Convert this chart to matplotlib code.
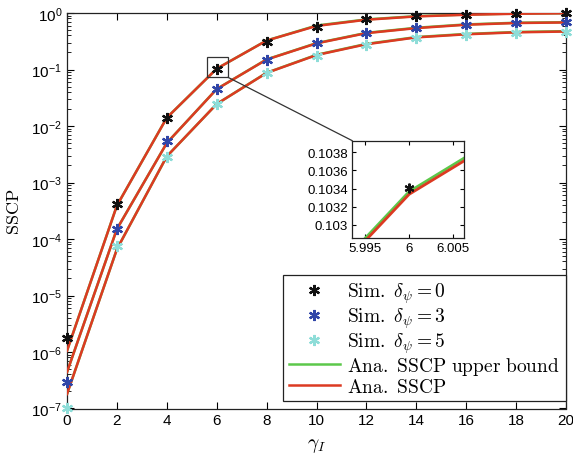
import matplotlib
matplotlib.use("Agg")
import matplotlib.pyplot as plt
from matplotlib.ticker import NullLocator, FixedLocator, LogLocator
from matplotlib.patches import Rectangle, ConnectionPatch

plt.rcParams['font.family'] = ['Liberation Sans', 'DejaVu Sans']
plt.rcParams['mathtext.fontset'] = 'cm'

gamma = [0, 2, 4, 6, 8, 10, 12, 14, 16, 18, 20]

sim0 = [1.8e-6, 4.2e-4, 1.38e-2, 0.10341, 0.31, 0.56, 0.78, 0.87, 0.93, 0.97, 0.99]
sim3 = [3.0e-7, 1.5e-4, 5.4e-3, 0.045, 0.149, 0.294, 0.44, 0.535, 0.605, 0.66, 0.68]
sim5 = [1.0e-7, 7.6e-5, 2.8e-3, 0.0245, 0.087, 0.176, 0.27, 0.355, 0.40, 0.44, 0.47]

red0 = [1.05e-6, 3.9e-4, 1.40e-2, 0.103337, 0.325, 0.59, 0.76, 0.87, 0.93, 0.97, 0.99]
red3 = [4.4e-7, 1.5e-4, 5.0e-3, 0.045, 0.15, 0.29, 0.44, 0.54, 0.62, 0.665, 0.68]
red5 = [1.8e-7, 6.6e-5, 2.9e-3, 0.0245, 0.087, 0.18, 0.28, 0.37, 0.42, 0.455, 0.47]

green0 = [1.05e-6, 3.9e-4, 1.40e-2, 0.103367, 0.326, 0.60, 0.77, 0.88, 0.94, 0.98, 0.995]
green3 = [4.4e-7, 1.5e-4, 5.0e-3, 0.0451, 0.151, 0.293, 0.445, 0.548, 0.628, 0.672, 0.688]
green5 = [1.8e-7, 6.6e-5, 2.9e-3, 0.02455, 0.0875, 0.182, 0.284, 0.375, 0.426, 0.461, 0.477]

xticks = [0, 2, 4, 6, 8, 10, 12, 14, 16, 18, 20]
inset_xticks = [5.995, 6.0, 6.005]
inset_xticklabels = ['5.995', '6', '6.005']
inset_yticks = [0.103, 0.1032, 0.1034, 0.1036, 0.1038]
inset_yticklabels = ['0.103', '0.1032', '0.1034', '0.1036', '0.1038']

c_black = '#111111'
c_blue = '#3046A8'
c_cyan = '#8EDDD8'
c_red = '#DC3A22'
c_green = '#5CC84A'

W, H = 573, 456
fig = plt.figure(figsize=(W / 100, H / 100), dpi=100)
ax = fig.add_axes([67 / W, 1 - 409.5 / H, (566 - 67) / W, (409.5 - 14) / H])

mk = dict(marker=(6, 2, 0), linestyle='none', markersize=8, markeredgewidth=1.6, clip_on=False, zorder=4)
h0, = ax.plot(gamma, sim0, color=c_black, markeredgecolor=c_black, label=r'$\mathrm{Sim.}\ \delta_{\psi}=0$', **mk)
h3, = ax.plot(gamma, sim3, color=c_blue, markeredgecolor=c_blue, label=r'$\mathrm{Sim.}\ \delta_{\psi}=3$', **mk)
h5, = ax.plot(gamma, sim5, color=c_cyan, markeredgecolor=c_cyan, label=r'$\mathrm{Sim.}\ \delta_{\psi}=5$', **mk)

lw = 1.8
for g in (green0, green3, green5):
    hg, = ax.plot(gamma, g, color=c_green, lw=lw, zorder=2)
for r in (red0, red3, red5):
    hr, = ax.plot(gamma, r, color=c_red, lw=lw, zorder=3)
hg.set_label(r'$\mathrm{Ana.\ SSCP\ upper\ bound}$')
hr.set_label(r'$\mathrm{Ana.\ SSCP}$')

ax.set_yscale('log')
ax.set_xlim(0, 20)
ax.set_ylim(1e-7, 1)
ax.set_xticks(xticks)
ax.set_xticklabels([str(t) for t in xticks])
ax.yaxis.set_major_locator(LogLocator(base=10, numticks=10))
ax.yaxis.set_minor_locator(LogLocator(base=10, subs=range(2, 10), numticks=100))
ax.tick_params(which='both', direction='in', top=True, right=True, labelsize=11)
ax.tick_params(which='major', length=5, width=0.8)
ax.tick_params(which='minor', length=3, width=0.6)
for s in ax.spines.values():
    s.set_linewidth(0.9)
    s.set_color('#222222')

ax.set_xlabel(r'$\gamma_I$', fontsize=14, labelpad=6)
ax.set_ylabel(r'$\mathrm{SSCP}$', fontsize=13, labelpad=6)

leg = ax.legend(handles=[h0, h3, h5, hg, hr], loc='lower right', bbox_to_anchor=(1.0, 0.018),
                fontsize=14, frameon=True, fancybox=False, edgecolor='#222222', framealpha=1,
                borderaxespad=0.0, handlelength=2.6, handletextpad=0.4,
                labelspacing=0.02, borderpad=0.3)
leg.get_frame().set_linewidth(0.9)

# zoom rectangle on main axes
rx0, rx1 = 5.60, 6.45
ry0, ry1 = 0.0728, 0.1686
ax.add_patch(Rectangle((rx0, ry0), rx1 - rx0, ry1 - ry0, fill=False, edgecolor='#333333', lw=0.9, zorder=5))

# inset
ix0, ix1 = 352.3, 464.3
iy0, iy1 = 141.7, 239.0
axi = fig.add_axes([ix0 / W, 1 - iy1 / H, (ix1 - ix0) / W, (iy1 - iy0) / H])
axi.plot(gamma, green0, color=c_green, lw=2.0, zorder=2)
axi.plot(gamma, red0, color=c_red, lw=2.0, zorder=3)
axi.plot(gamma, sim0, color=c_black, marker=(6, 2, 0), linestyle='none', markersize=7,
         markeredgewidth=1.5, markeredgecolor=c_black, zorder=4)
axi.set_yscale('log')
axi.set_xlim(5.99356, 6.00625)
axi.set_ylim(0.102856, 0.10393)
axi.xaxis.set_major_locator(FixedLocator(inset_xticks))
axi.set_xticklabels(inset_xticklabels)
axi.yaxis.set_major_locator(FixedLocator(inset_yticks))
axi.set_yticklabels(inset_yticklabels)
axi.yaxis.set_minor_locator(NullLocator())
axi.xaxis.set_minor_locator(NullLocator())
axi.tick_params(which='both', direction='in', top=True, right=True, labelsize=9.5, length=3, pad=3)
for s in axi.spines.values():
    s.set_linewidth(0.9)
    s.set_color('#222222')

con = ConnectionPatch(xyA=(rx1, ry0), coordsA=ax.transData,
                      xyB=(5.99356, 0.10393), coordsB=axi.transData,
                      color='#333333', lw=0.9)
fig.add_artist(con)

fig.savefig('out.png', dpi=100)
